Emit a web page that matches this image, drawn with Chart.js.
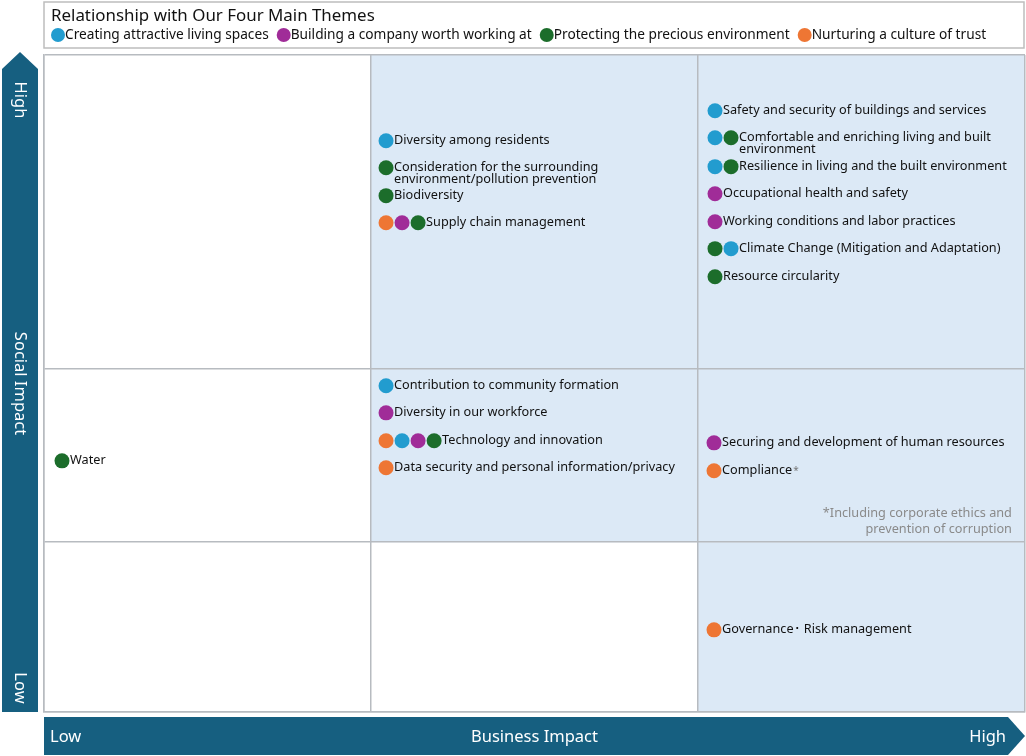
<!DOCTYPE html>
<html>
<head>
<meta charset="utf-8">
<script src="https://cdn.jsdelivr.net/npm/chart.js@4.4.1/dist/chart.umd.min.js"></script>
<style>
  html, body { margin: 0; padding: 0; background: #fff; }
  canvas { display: block; }
</style>
</head>
<body>
<canvas id="matrix" width="1026" height="756"></canvas>
<script>
// themes (legend)
const legendTitle = 'Relationship with Our Four Main Themes';
const themeNames = [
    'Creating attractive living spaces',
    'Building a company worth working at',
    'Protecting the precious environment',
    'Nurturing a culture of trust'
];
const themeColors = ['#229ccf', '#a02c98', '#1c6d2b', '#ee7634'];

// matrix edges (business impact columns, social impact rows)
const colEdges = [0, 1, 2, 3];
const rowEdges = [0, 0.99, 2, 3.83];
// shaded cells as [column, row]
const shadedCells = [[1, 2], [2, 2], [1, 1], [2, 1], [2, 0]];

// material issues
const itemLabels = [
    'Diversity among residents',
    'Consideration for the surrounding\nenvironment/pollution prevention',
    'Biodiversity',
    'Supply chain management',
    'Safety and security of buildings and services',
    'Comfortable and enriching living and built\nenvironment',
    'Resilience in living and the built environment',
    'Occupational health and safety',
    'Working conditions and labor practices',
    'Climate Change (Mitigation and Adaptation)',
    'Resource circularity',
    'Contribution to community formation',
    'Diversity in our workforce',
    'Technology and innovation',
    'Data security and personal information/privacy',
    'Securing and development of human resources',
    'Compliance*',
    'Water',
    'Governance\uFF65 Risk management'
];
const itemBusiness = [1.046, 1.046, 1.046, 1.046, 2.052, 2.052, 2.052, 2.052, 2.052, 2.052, 2.052,
    1.046, 1.046, 1.046, 1.046, 2.049, 2.049, 0.055, 2.049];
const itemSocial = [3.330, 3.173, 3.010, 2.852, 3.505, 3.348, 3.179, 3.021, 2.858, 2.701, 2.537,
    1.902, 1.744, 1.581, 1.424, 1.569, 1.406, 1.464, 0.479];
const itemThemes = [[0], [2], [2], [3, 1, 2], [0], [0, 2], [0, 2], [1], [1], [2, 0], [2],
    [0], [1], [3, 0, 1, 2], [3], [1], [3], [2], [3]];
const dotStep = 0.049;

const footnoteLines = ['*Including corporate ethics and', 'prevention of corruption'];
const footnoteX = 2.96;
const footnoteY = [1.155, 1.062];

const axisY = { low: 'Low', title: 'Social Impact', high: 'High' };
const axisX = { low: 'Low', title: 'Business Impact', high: 'High' };

const FONT = '"Noto Sans", "Open Sans", sans-serif';
const ARROW = '#165f80';
const GRID = '#b7bbc0';
const CELL = '#dce9f6';

// one dataset per theme
const datasets = themeNames.map((name, t) => {
    let pts = [];
    itemLabels.forEach((lab, i) => {
        itemThemes[i].forEach((th, k) => {
            if (th === t) pts.push({ x: itemBusiness[i] + k * dotStep, y: itemSocial[i] });
        });
    });
    return {
        label: name,
        data: pts,
        backgroundColor: themeColors[t],
        borderWidth: 0,
        pointRadius: 7.5,
        pointHoverRadius: 7.5
    };
});

const cellPlugin = {
    id: 'cells',
    beforeDraw(chart) {
        const ctx = chart.ctx;
        const xs = chart.scales.x, ys = chart.scales.y;
        ctx.save();
        ctx.fillStyle = CELL;
        shadedCells.forEach(([c, r]) => {
            const x0 = xs.getPixelForValue(colEdges[c]);
            const x1 = xs.getPixelForValue(colEdges[c + 1]);
            const y0 = ys.getPixelForValue(rowEdges[r + 1]);
            const y1 = ys.getPixelForValue(rowEdges[r]);
            ctx.fillRect(x0, y0, x1 - x0, y1 - y0);
        });
        ctx.restore();
    }
};

const labelPlugin = {
    id: 'itemLabels',
    afterDatasetsDraw(chart) {
        const ctx = chart.ctx;
        const xs = chart.scales.x, ys = chart.scales.y;
        ctx.save();
        ctx.textBaseline = 'middle';
        ctx.textAlign = 'left';
        itemLabels.forEach((lab, i) => {
            const lastX = itemBusiness[i] + (itemThemes[i].length - 1) * dotStep;
            const px = xs.getPixelForValue(lastX) + 8;
            const py = ys.getPixelForValue(itemSocial[i]);
            let star = false;
            let text = lab;
            if (text.endsWith('*')) { star = true; text = text.slice(0, -1); }
            ctx.font = '12.7px ' + FONT;
            ctx.fillStyle = '#111';
            text.split('\n').forEach((line, j) => {
                ctx.fillText(line, px, py + j * 12);
                if (star) {
                    const w = ctx.measureText(line).width;
                    ctx.font = '10px ' + FONT;
                    ctx.fillStyle = '#777';
                    ctx.fillText('*', px + w + 1, py);
                }
            });
        });
        // footnote
        ctx.textAlign = 'right';
        ctx.font = '12.7px ' + FONT;
        ctx.fillStyle = '#8a8a8a';
        footnoteLines.forEach((line, j) => {
            ctx.fillText(line, xs.getPixelForValue(footnoteX), ys.getPixelForValue(footnoteY[j]));
        });
        ctx.restore();
    }
};

const framePlugin = {
    id: 'frame',
    afterDraw(chart) {
        const ctx = chart.ctx;
        const a = chart.chartArea;
        ctx.save();

        // legend box
        ctx.fillStyle = '#fff';
        ctx.strokeStyle = '#bdbdbd';
        ctx.lineWidth = 1.5;
        ctx.fillRect(a.left, 2, a.right - a.left - 1, 46);
        ctx.strokeRect(a.left, 2, a.right - a.left - 1, 46);
        ctx.fillStyle = '#111';
        ctx.textBaseline = 'middle';
        ctx.textAlign = 'left';
        ctx.font = '16.9px ' + FONT;
        ctx.fillText(legendTitle, a.left + 7, 16);
        ctx.font = '13.7px ' + FONT;
        let lx = a.left + 14;
        themeNames.forEach((name, t) => {
            ctx.fillStyle = themeColors[t];
            ctx.beginPath();
            ctx.arc(lx, 35, 7, 0, Math.PI * 2);
            ctx.fill();
            ctx.fillStyle = '#111';
            ctx.fillText(name, lx + 7, 35);
            lx += 7 + ctx.measureText(name).width + 15;
        });

        // vertical arrow (social impact)
        ctx.fillStyle = ARROW;
        ctx.beginPath();
        ctx.moveTo(2, a.bottom);
        ctx.lineTo(2, 69);
        ctx.lineTo(20, 52);
        ctx.lineTo(38, 69);
        ctx.lineTo(38, a.bottom);
        ctx.closePath();
        ctx.fill();

        // horizontal arrow (business impact)
        ctx.beginPath();
        ctx.moveTo(a.left, 717);
        ctx.lineTo(1008, 717);
        ctx.lineTo(1025, 736);
        ctx.lineTo(1008, 755);
        ctx.lineTo(a.left, 755);
        ctx.closePath();
        ctx.fill();

        ctx.fillStyle = '#fff';
        ctx.font = '16.5px ' + FONT;
        const drawRot = (txt, y) => {
            ctx.save();
            ctx.translate(20, y);
            ctx.rotate(Math.PI / 2);
            ctx.textAlign = 'center';
            ctx.fillText(txt, 0, 0);
            ctx.restore();
        };
        drawRot(axisY.high, 100);
        drawRot(axisY.title, (a.top + a.bottom) / 2);
        drawRot(axisY.low, 688);

        ctx.textAlign = 'left';
        ctx.fillText(axisX.low, a.left + 6, 737);
        ctx.textAlign = 'center';
        ctx.fillText(axisX.title, (a.left + a.right) / 2, 737);
        ctx.textAlign = 'right';
        ctx.fillText(axisX.high, 1006, 737);
        ctx.restore();
    }
};

new Chart(document.getElementById('matrix'), {
    type: 'scatter',
    data: { datasets: datasets },
    options: {
        responsive: false,
        animation: false,
        events: [],
        layout: { autoPadding: false, padding: { left: 44, right: 1, top: 55, bottom: 44 } },
        plugins: { legend: { display: false }, tooltip: { enabled: false } },
        scales: {
            x: {
                type: 'linear', min: colEdges[0], max: colEdges[colEdges.length - 1],
                afterBuildTicks: (s) => { s.ticks = colEdges.map(v => ({ value: v })); },
                ticks: { display: false },
                grid: { color: GRID, lineWidth: 1.5, drawTicks: false },
                border: { color: GRID, width: 1.5 }
            },
            y: {
                type: 'linear', min: rowEdges[0], max: rowEdges[rowEdges.length - 1],
                afterBuildTicks: (s) => { s.ticks = rowEdges.map(v => ({ value: v })); },
                ticks: { display: false },
                grid: { color: GRID, lineWidth: 1.5, drawTicks: false },
                border: { color: GRID, width: 1.5 }
            }
        }
    },
    plugins: [cellPlugin, labelPlugin, framePlugin]
});
</script>
</body>
</html>
